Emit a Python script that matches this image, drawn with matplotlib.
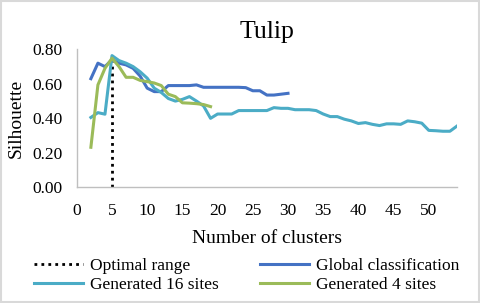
import matplotlib
matplotlib.use('Agg')
import matplotlib.pyplot as plt
from matplotlib.patches import Rectangle

# silhouette per number of clusters
global_k = list(range(2, 31))
global_vals = [0.63, 0.72, 0.70, 0.74, 0.72, 0.71, 0.69, 0.645, 0.575, 0.555,
               0.555, 0.59, 0.59, 0.59, 0.59, 0.594, 0.58, 0.58, 0.58, 0.58,
               0.58, 0.58, 0.578, 0.56, 0.56, 0.535, 0.535, 0.54, 0.545]

gen16_k = list(range(2, 55))
gen16_vals = [0.405, 0.433, 0.424, 0.764, 0.735, 0.72, 0.70, 0.67, 0.633, 0.575,
              0.55, 0.515, 0.50, 0.51, 0.526, 0.50, 0.472, 0.40, 0.425, 0.425,
              0.425, 0.445, 0.445, 0.445, 0.445, 0.445, 0.462, 0.458, 0.458, 0.45,
              0.45, 0.45, 0.445, 0.425, 0.41, 0.41, 0.395, 0.385, 0.37, 0.375,
              0.365, 0.358, 0.368, 0.368, 0.365, 0.385, 0.38, 0.372, 0.33, 0.328,
              0.325, 0.325, 0.355]

gen4_k = list(range(2, 20))
gen4_vals = [0.232, 0.594, 0.69, 0.749, 0.70, 0.638, 0.638, 0.62, 0.613, 0.605,
             0.59, 0.54, 0.526, 0.49, 0.488, 0.485, 0.48, 0.468]

optimal_k = [5, 5]
optimal_vals = [0.0, 0.76]

xticks = list(range(0, 51, 5))
yticks = [0.0, 0.2, 0.4, 0.6, 0.8]

plt.rcParams['font.family'] = ['Liberation Serif', 'DejaVu Serif']

fig = plt.figure(figsize=(4.8, 3.03), dpi=100)
ax = fig.add_axes([0.160, 0.382, 0.792, 0.455])

l_opt, = ax.plot(optimal_k, optimal_vals, color='black', linestyle=(0, (1, 1.5)), linewidth=2.0)
l_glob, = ax.plot(global_k, global_vals, color='#4472C4', linewidth=2.2)
l_16, = ax.plot(gen16_k, gen16_vals, color='#4BACC6', linewidth=2.2)
l_4, = ax.plot(gen4_k, gen4_vals, color='#9BBB59', linewidth=2.2)

ax.set_xlim(0, 54)
ax.set_ylim(0, 0.8)
ax.set_xticks(xticks)
ax.set_yticks(yticks)
ax.set_yticklabels(['%.2f' % v for v in yticks])
ax.tick_params(axis='both', length=0, labelsize=12.5)
ax.tick_params(axis='x', pad=11)
ax.tick_params(axis='y', pad=10)

for s in ['top', 'right']:
    ax.spines[s].set_visible(False)
for s in ['left', 'bottom']:
    ax.spines[s].set_color('#BFBFBF')
    ax.spines[s].set_linewidth(1.0)

ax.set_title('Tulip', fontsize=18.5, pad=8)
ax.set_xlabel('Number of clusters', fontsize=14, labelpad=8.5)
ax.set_ylabel('Silhouette', fontsize=14, labelpad=6)

fig.legend([l_opt, l_16, l_glob, l_4],
           ['Optimal range', 'Generated 16 sites', 'Global classification', 'Generated 4 sites'],
           ncol=2, loc='lower left', bbox_to_anchor=(0.05, 0.0),
           frameon=False, fontsize=12.5, handlelength=2.8, handletextpad=0.4,
           columnspacing=2.4, labelspacing=0.15, borderaxespad=0.2)

fig.patches.append(Rectangle((0.002, 0.003), 0.996, 0.994, transform=fig.transFigure,
                             fill=False, edgecolor='#D9D9D9', linewidth=1.5))

fig.savefig('out.png', dpi=100)
